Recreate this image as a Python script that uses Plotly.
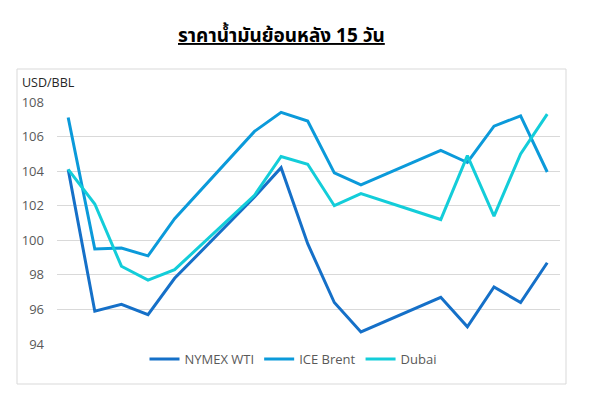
import plotly.graph_objects as go

# trading-day offsets (weekends skipped)
days = [0, 1, 2, 3, 4, 7, 8, 9, 10, 11, 14, 15, 16, 17, 18]
wti = [104.1, 95.9, 96.3, 95.7, 97.8, 102.5, 104.2, 99.8, 96.4, 94.7, 96.7, 95.0, 97.3, 96.4, 98.7]
brent = [107.1, 99.5, 99.55, 99.1, 101.25, 106.3, 107.4, 106.9, 103.9, 103.2, 105.2, 104.5, 106.6, 107.2, 103.95]
dubai = [104.1, 102.1, 98.5, 97.7, 98.3, 102.6, 104.85, 104.4, 102.0, 102.7, 101.2, 104.9, 101.4, 105.0, 107.3]
y_ticks = [94, 96, 98, 100, 102, 104, 106, 108]

series = [("NYMEX WTI", wti, "#1570C8"), ("ICE Brent", brent, "#0B9ADA"), ("Dubai", dubai, "#13CDD9")]

fig = go.Figure()
for name, vals, col in series:
    fig.add_trace(go.Scatter(x=days, y=vals, name=name, mode="lines",
                             line=dict(color=col, width=3)))

OFF = 8  # default page body margin
W, H = 591 - 2 * OFF, 396 - 2 * OFF
L, R, T, B = 57 - OFF, 560 - OFF, 102 - OFF, 344 - OFF

def px(x):
    return (x - OFF - L) / (R - L)

def py(y):
    return (B - (y - OFF)) / (B - T)

fig.update_layout(
    width=W, height=H,
    margin=dict(l=L, r=W - R, t=T, b=H - B),
    paper_bgcolor="white", plot_bgcolor="white",
    font=dict(family="Open Sans, sans-serif", size=12, color="#595959"),
    showlegend=True,
    legend=dict(orientation="h", x=px(293), y=py(359), xanchor="center", yanchor="middle",
                font=dict(size=13, color="#595959"), bgcolor="rgba(0,0,0,0)"),
    xaxis=dict(range=[-0.42, 18.48], showgrid=False, showticklabels=False, zeroline=False,
               showline=False, ticks=""),
    yaxis=dict(range=[94, 108], tickvals=y_ticks, showgrid=True, gridcolor="#d9d9d9",
               gridwidth=1, zeroline=False, showline=False, ticks="", ticklabelstandoff=12,
               tickfont=dict(size=13, color="#595959")),
    shapes=[dict(type="rect", xref="paper", yref="paper",
                 x0=px(17), x1=px(566), y0=py(384), y1=py(69),
                 line=dict(color="#d9d9d9", width=1), fillcolor="rgba(0,0,0,0)", layer="below")],
    annotations=[
        dict(text="<b><u>ราคาน้ำมันย้อนหลัง 15 วัน</u></b>", xref="paper", yref="paper",
             x=px(281.5), y=py(37), xanchor="center", yanchor="middle", showarrow=False,
             font=dict(family="Tahoma, Noto Sans Thai, Noto Sans, sans-serif", size=19, color="black")),
        dict(text="USD/BBL", xref="paper", yref="paper", x=px(20), y=py(82),
             xanchor="left", yanchor="middle", showarrow=False,
             font=dict(size=12.5, color="#262626")),
    ],
)

fig.write_html("out.html")
